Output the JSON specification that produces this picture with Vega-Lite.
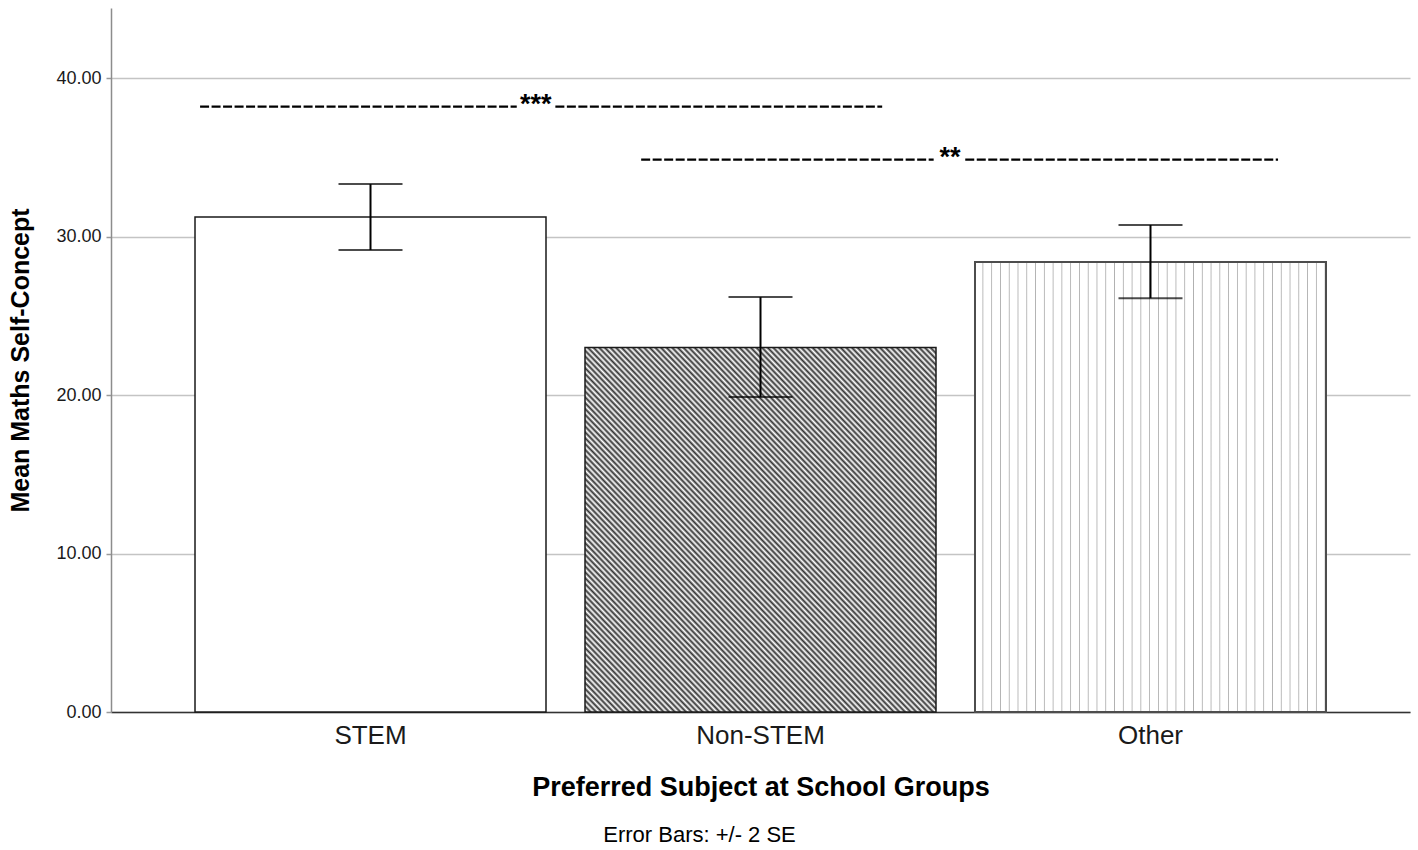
{
  "$schema": "https://vega.github.io/schema/vega-lite/v6.json",
  "width": 1299,
  "height": 704,
  "autosize": {"type": "none"},
  "padding": {"left": 111, "top": 8, "right": 8, "bottom": 138},
  "background": "white",
  "config": {
    "view": {"stroke": null},
    "font": "Liberation Sans",
    "axisY": {"domainColor": "#8c8c8c", "domainWidth": 1.5, "tickColor": "#9a9a9a", "tickSize": 5, "tickWidth": 1.5, "grid": true, "gridColor": "#c4c4c4", "gridWidth": 1.5, "labelFont": "Liberation Sans", "labelFontSize": 18, "labelColor": "#1a1a1a", "labelPadding": 5, "titleFont": "Liberation Sans", "titleFontSize": 25, "titleFontWeight": "bold", "titleColor": "#000", "titleX": -91, "titleY": 352, "titleAngle": -90, "titleAlign": "center", "titleBaseline": "middle"},
    "axisX": {"domainColor": "#333", "domainWidth": 1.5, "ticks": false, "grid": false, "labelFont": "Liberation Sans", "labelFontSize": 26, "labelColor": "#1a1a1a", "labelPadding": 10, "labelAngle": 0, "titleFont": "Liberation Sans", "titleFontSize": 27, "titleFontWeight": "bold", "titleColor": "#000", "titleY": 83, "titleBaseline": "alphabetic"}
  },
  "title": {"text": "Error Bars: +/- 2 SE", "orient": "bottom", "anchor": "middle", "dx": -61, "offset": 25, "fontSize": 22, "fontWeight": "normal", "font": "Liberation Sans", "color": "#000"},
  "datasets": {
    "groups": [
      {"group": "STEM", "mean": 31.23, "lo": 29.15, "hi": 33.31},
      {"group": "Non-STEM", "mean": 23.0, "lo": 19.88, "hi": 26.18},
      {"group": "Other", "mean": 28.4, "lo": 26.11, "hi": 30.73}
    ],
    "sigLines": [
      {"x": -0.437, "x2": 0.375, "y": 38.2},
      {"x": 0.474, "x2": 1.312, "y": 38.2},
      {"x": 0.694, "x2": 1.444, "y": 34.85},
      {"x": 1.525, "x2": 2.327, "y": 34.85}
    ],
    "sigLabels": [
      {"x": 0.424, "y": 38.2, "label": "***"},
      {"x": 1.486, "y": 34.85, "label": "**"}
    ]
  },
  "layer": [
    {
      "data": {"name": "groups"},
      "encoding": {
        "x": {"field": "group", "type": "nominal", "sort": ["STEM", "Non-STEM", "Other"], "scale": {"domain": ["STEM", "Non-STEM", "Other"], "paddingInner": 0.1, "paddingOuter": 0.2154}, "title": "Preferred Subject at School Groups"},
        "y": {"field": "mean", "type": "quantitative", "scale": {"domain": [0, 44.42], "nice": false, "zero": true}, "axis": {"values": [0, 10, 20, 30, 40], "format": ".2f"}, "title": "Mean Maths Self-Concept"}
      },
      "layer": [
        {"transform": [{"filter": "datum.group === 'STEM'"}], "mark": {"type": "bar", "fill": "#ffffff", "stroke": "#1a1a1a", "strokeWidth": 1.5}},
        {"transform": [{"filter": "datum.group === 'Non-STEM'"}], "mark": {"type": "bar", "stroke": "#1a1a1a", "strokeWidth": 1.5, "fill": {"gradient": "linear", "x1": 0, "y1": 1, "x2": 1, "y2": 0, "stops": [
          {"offset": 0, "color": "#333"}, {"offset": 0.004, "color": "#fff"}, {"offset": 0.008, "color": "#333"}, {"offset": 0.012, "color": "#fff"}, {"offset": 0.016, "color": "#333"}, {"offset": 0.02, "color": "#fff"}, {"offset": 0.024, "color": "#333"}, {"offset": 0.028, "color": "#fff"}, {"offset": 0.032, "color": "#333"}, {"offset": 0.036, "color": "#fff"},
          {"offset": 0.04, "color": "#333"}, {"offset": 0.044, "color": "#fff"}, {"offset": 0.048, "color": "#333"}, {"offset": 0.052, "color": "#fff"}, {"offset": 0.056, "color": "#333"}, {"offset": 0.06, "color": "#fff"}, {"offset": 0.064, "color": "#333"}, {"offset": 0.068, "color": "#fff"}, {"offset": 0.072, "color": "#333"}, {"offset": 0.076, "color": "#fff"},
          {"offset": 0.08, "color": "#333"}, {"offset": 0.084, "color": "#fff"}, {"offset": 0.088, "color": "#333"}, {"offset": 0.092, "color": "#fff"}, {"offset": 0.096, "color": "#333"}, {"offset": 0.1, "color": "#fff"}, {"offset": 0.104, "color": "#333"}, {"offset": 0.108, "color": "#fff"}, {"offset": 0.112, "color": "#333"}, {"offset": 0.116, "color": "#fff"},
          {"offset": 0.12, "color": "#333"}, {"offset": 0.124, "color": "#fff"}, {"offset": 0.128, "color": "#333"}, {"offset": 0.132, "color": "#fff"}, {"offset": 0.136, "color": "#333"}, {"offset": 0.14, "color": "#fff"}, {"offset": 0.144, "color": "#333"}, {"offset": 0.148, "color": "#fff"}, {"offset": 0.152, "color": "#333"}, {"offset": 0.156, "color": "#fff"},
          {"offset": 0.16, "color": "#333"}, {"offset": 0.164, "color": "#fff"}, {"offset": 0.168, "color": "#333"}, {"offset": 0.172, "color": "#fff"}, {"offset": 0.176, "color": "#333"}, {"offset": 0.18, "color": "#fff"}, {"offset": 0.184, "color": "#333"}, {"offset": 0.188, "color": "#fff"}, {"offset": 0.192, "color": "#333"}, {"offset": 0.196, "color": "#fff"},
          {"offset": 0.2, "color": "#333"}, {"offset": 0.204, "color": "#fff"}, {"offset": 0.208, "color": "#333"}, {"offset": 0.212, "color": "#fff"}, {"offset": 0.216, "color": "#333"}, {"offset": 0.22, "color": "#fff"}, {"offset": 0.224, "color": "#333"}, {"offset": 0.228, "color": "#fff"}, {"offset": 0.232, "color": "#333"}, {"offset": 0.236, "color": "#fff"},
          {"offset": 0.24, "color": "#333"}, {"offset": 0.244, "color": "#fff"}, {"offset": 0.248, "color": "#333"}, {"offset": 0.252, "color": "#fff"}, {"offset": 0.256, "color": "#333"}, {"offset": 0.26, "color": "#fff"}, {"offset": 0.264, "color": "#333"}, {"offset": 0.268, "color": "#fff"}, {"offset": 0.272, "color": "#333"}, {"offset": 0.276, "color": "#fff"},
          {"offset": 0.28, "color": "#333"}, {"offset": 0.284, "color": "#fff"}, {"offset": 0.288, "color": "#333"}, {"offset": 0.292, "color": "#fff"}, {"offset": 0.296, "color": "#333"}, {"offset": 0.3, "color": "#fff"}, {"offset": 0.304, "color": "#333"}, {"offset": 0.308, "color": "#fff"}, {"offset": 0.312, "color": "#333"}, {"offset": 0.316, "color": "#fff"},
          {"offset": 0.32, "color": "#333"}, {"offset": 0.324, "color": "#fff"}, {"offset": 0.328, "color": "#333"}, {"offset": 0.332, "color": "#fff"}, {"offset": 0.336, "color": "#333"}, {"offset": 0.34, "color": "#fff"}, {"offset": 0.344, "color": "#333"}, {"offset": 0.348, "color": "#fff"}, {"offset": 0.352, "color": "#333"}, {"offset": 0.356, "color": "#fff"},
          {"offset": 0.36, "color": "#333"}, {"offset": 0.364, "color": "#fff"}, {"offset": 0.368, "color": "#333"}, {"offset": 0.372, "color": "#fff"}, {"offset": 0.376, "color": "#333"}, {"offset": 0.38, "color": "#fff"}, {"offset": 0.384, "color": "#333"}, {"offset": 0.388, "color": "#fff"}, {"offset": 0.392, "color": "#333"}, {"offset": 0.396, "color": "#fff"},
          {"offset": 0.4, "color": "#333"}, {"offset": 0.404, "color": "#fff"}, {"offset": 0.408, "color": "#333"}, {"offset": 0.412, "color": "#fff"}, {"offset": 0.416, "color": "#333"}, {"offset": 0.42, "color": "#fff"}, {"offset": 0.424, "color": "#333"}, {"offset": 0.428, "color": "#fff"}, {"offset": 0.432, "color": "#333"}, {"offset": 0.436, "color": "#fff"},
          {"offset": 0.44, "color": "#333"}, {"offset": 0.444, "color": "#fff"}, {"offset": 0.448, "color": "#333"}, {"offset": 0.452, "color": "#fff"}, {"offset": 0.456, "color": "#333"}, {"offset": 0.46, "color": "#fff"}, {"offset": 0.464, "color": "#333"}, {"offset": 0.468, "color": "#fff"}, {"offset": 0.472, "color": "#333"}, {"offset": 0.476, "color": "#fff"},
          {"offset": 0.48, "color": "#333"}, {"offset": 0.484, "color": "#fff"}, {"offset": 0.488, "color": "#333"}, {"offset": 0.492, "color": "#fff"}, {"offset": 0.496, "color": "#333"}, {"offset": 0.5, "color": "#fff"}, {"offset": 0.504, "color": "#333"}, {"offset": 0.508, "color": "#fff"}, {"offset": 0.512, "color": "#333"}, {"offset": 0.516, "color": "#fff"},
          {"offset": 0.52, "color": "#333"}, {"offset": 0.524, "color": "#fff"}, {"offset": 0.528, "color": "#333"}, {"offset": 0.532, "color": "#fff"}, {"offset": 0.536, "color": "#333"}, {"offset": 0.54, "color": "#fff"}, {"offset": 0.544, "color": "#333"}, {"offset": 0.548, "color": "#fff"}, {"offset": 0.552, "color": "#333"}, {"offset": 0.556, "color": "#fff"},
          {"offset": 0.56, "color": "#333"}, {"offset": 0.564, "color": "#fff"}, {"offset": 0.568, "color": "#333"}, {"offset": 0.572, "color": "#fff"}, {"offset": 0.576, "color": "#333"}, {"offset": 0.58, "color": "#fff"}, {"offset": 0.584, "color": "#333"}, {"offset": 0.588, "color": "#fff"}, {"offset": 0.592, "color": "#333"}, {"offset": 0.596, "color": "#fff"},
          {"offset": 0.6, "color": "#333"}, {"offset": 0.604, "color": "#fff"}, {"offset": 0.608, "color": "#333"}, {"offset": 0.612, "color": "#fff"}, {"offset": 0.616, "color": "#333"}, {"offset": 0.62, "color": "#fff"}, {"offset": 0.624, "color": "#333"}, {"offset": 0.628, "color": "#fff"}, {"offset": 0.632, "color": "#333"}, {"offset": 0.636, "color": "#fff"},
          {"offset": 0.64, "color": "#333"}, {"offset": 0.644, "color": "#fff"}, {"offset": 0.648, "color": "#333"}, {"offset": 0.652, "color": "#fff"}, {"offset": 0.656, "color": "#333"}, {"offset": 0.66, "color": "#fff"}, {"offset": 0.664, "color": "#333"}, {"offset": 0.668, "color": "#fff"}, {"offset": 0.672, "color": "#333"}, {"offset": 0.676, "color": "#fff"},
          {"offset": 0.68, "color": "#333"}, {"offset": 0.684, "color": "#fff"}, {"offset": 0.688, "color": "#333"}, {"offset": 0.692, "color": "#fff"}, {"offset": 0.696, "color": "#333"}, {"offset": 0.7, "color": "#fff"}, {"offset": 0.704, "color": "#333"}, {"offset": 0.708, "color": "#fff"}, {"offset": 0.712, "color": "#333"}, {"offset": 0.716, "color": "#fff"},
          {"offset": 0.72, "color": "#333"}, {"offset": 0.724, "color": "#fff"}, {"offset": 0.728, "color": "#333"}, {"offset": 0.732, "color": "#fff"}, {"offset": 0.736, "color": "#333"}, {"offset": 0.74, "color": "#fff"}, {"offset": 0.744, "color": "#333"}, {"offset": 0.748, "color": "#fff"}, {"offset": 0.752, "color": "#333"}, {"offset": 0.756, "color": "#fff"},
          {"offset": 0.76, "color": "#333"}, {"offset": 0.764, "color": "#fff"}, {"offset": 0.768, "color": "#333"}, {"offset": 0.772, "color": "#fff"}, {"offset": 0.776, "color": "#333"}, {"offset": 0.78, "color": "#fff"}, {"offset": 0.784, "color": "#333"}, {"offset": 0.788, "color": "#fff"}, {"offset": 0.792, "color": "#333"}, {"offset": 0.796, "color": "#fff"},
          {"offset": 0.8, "color": "#333"}, {"offset": 0.804, "color": "#fff"}, {"offset": 0.808, "color": "#333"}, {"offset": 0.812, "color": "#fff"}, {"offset": 0.816, "color": "#333"}, {"offset": 0.82, "color": "#fff"}, {"offset": 0.824, "color": "#333"}, {"offset": 0.828, "color": "#fff"}, {"offset": 0.832, "color": "#333"}, {"offset": 0.836, "color": "#fff"},
          {"offset": 0.84, "color": "#333"}, {"offset": 0.844, "color": "#fff"}, {"offset": 0.848, "color": "#333"}, {"offset": 0.852, "color": "#fff"}, {"offset": 0.856, "color": "#333"}, {"offset": 0.86, "color": "#fff"}, {"offset": 0.864, "color": "#333"}, {"offset": 0.868, "color": "#fff"}, {"offset": 0.872, "color": "#333"}, {"offset": 0.876, "color": "#fff"},
          {"offset": 0.88, "color": "#333"}, {"offset": 0.884, "color": "#fff"}, {"offset": 0.888, "color": "#333"}, {"offset": 0.892, "color": "#fff"}, {"offset": 0.896, "color": "#333"}, {"offset": 0.9, "color": "#fff"}, {"offset": 0.904, "color": "#333"}, {"offset": 0.908, "color": "#fff"}, {"offset": 0.912, "color": "#333"}, {"offset": 0.916, "color": "#fff"},
          {"offset": 0.92, "color": "#333"}, {"offset": 0.924, "color": "#fff"}, {"offset": 0.928, "color": "#333"}, {"offset": 0.932, "color": "#fff"}, {"offset": 0.936, "color": "#333"}, {"offset": 0.94, "color": "#fff"}, {"offset": 0.944, "color": "#333"}, {"offset": 0.948, "color": "#fff"}, {"offset": 0.952, "color": "#333"}, {"offset": 0.956, "color": "#fff"},
          {"offset": 0.96, "color": "#333"}, {"offset": 0.964, "color": "#fff"}, {"offset": 0.968, "color": "#333"}, {"offset": 0.972, "color": "#fff"}, {"offset": 0.976, "color": "#333"}, {"offset": 0.98, "color": "#fff"}, {"offset": 0.984, "color": "#333"}, {"offset": 0.988, "color": "#fff"}, {"offset": 0.992, "color": "#333"}, {"offset": 0.996, "color": "#fff"},
          {"offset": 1, "color": "#333"}
        ]}}},
        {"transform": [{"filter": "datum.group === 'Other'"}], "mark": {"type": "bar", "stroke": "#4d4d4d", "strokeWidth": 2, "fill": {"gradient": "linear", "x1": 0, "y1": 0, "x2": 1, "y2": 0, "stops": [
          {"offset": 0, "color": "#fff"},
          {"offset": 0.02, "color": "#fff"}, {"offset": 0.0225, "color": "#b0b0b0"}, {"offset": 0.025, "color": "#fff"},
          {"offset": 0.045, "color": "#fff"}, {"offset": 0.0475, "color": "#b0b0b0"}, {"offset": 0.05, "color": "#fff"},
          {"offset": 0.07, "color": "#fff"}, {"offset": 0.0725, "color": "#b0b0b0"}, {"offset": 0.075, "color": "#fff"},
          {"offset": 0.095, "color": "#fff"}, {"offset": 0.0975, "color": "#b0b0b0"}, {"offset": 0.1, "color": "#fff"},
          {"offset": 0.12, "color": "#fff"}, {"offset": 0.1225, "color": "#b0b0b0"}, {"offset": 0.125, "color": "#fff"},
          {"offset": 0.145, "color": "#fff"}, {"offset": 0.1475, "color": "#b0b0b0"}, {"offset": 0.15, "color": "#fff"},
          {"offset": 0.17, "color": "#fff"}, {"offset": 0.1725, "color": "#b0b0b0"}, {"offset": 0.175, "color": "#fff"},
          {"offset": 0.195, "color": "#fff"}, {"offset": 0.1975, "color": "#b0b0b0"}, {"offset": 0.2, "color": "#fff"},
          {"offset": 0.22, "color": "#fff"}, {"offset": 0.2225, "color": "#b0b0b0"}, {"offset": 0.225, "color": "#fff"},
          {"offset": 0.245, "color": "#fff"}, {"offset": 0.2475, "color": "#b0b0b0"}, {"offset": 0.25, "color": "#fff"},
          {"offset": 0.27, "color": "#fff"}, {"offset": 0.2725, "color": "#b0b0b0"}, {"offset": 0.275, "color": "#fff"},
          {"offset": 0.295, "color": "#fff"}, {"offset": 0.2975, "color": "#b0b0b0"}, {"offset": 0.3, "color": "#fff"},
          {"offset": 0.32, "color": "#fff"}, {"offset": 0.3225, "color": "#b0b0b0"}, {"offset": 0.325, "color": "#fff"},
          {"offset": 0.345, "color": "#fff"}, {"offset": 0.3475, "color": "#b0b0b0"}, {"offset": 0.35, "color": "#fff"},
          {"offset": 0.37, "color": "#fff"}, {"offset": 0.3725, "color": "#b0b0b0"}, {"offset": 0.375, "color": "#fff"},
          {"offset": 0.395, "color": "#fff"}, {"offset": 0.3975, "color": "#b0b0b0"}, {"offset": 0.4, "color": "#fff"},
          {"offset": 0.42, "color": "#fff"}, {"offset": 0.4225, "color": "#b0b0b0"}, {"offset": 0.425, "color": "#fff"},
          {"offset": 0.445, "color": "#fff"}, {"offset": 0.4475, "color": "#b0b0b0"}, {"offset": 0.45, "color": "#fff"},
          {"offset": 0.47, "color": "#fff"}, {"offset": 0.4725, "color": "#b0b0b0"}, {"offset": 0.475, "color": "#fff"},
          {"offset": 0.495, "color": "#fff"}, {"offset": 0.4975, "color": "#b0b0b0"}, {"offset": 0.5, "color": "#fff"},
          {"offset": 0.52, "color": "#fff"}, {"offset": 0.5225, "color": "#b0b0b0"}, {"offset": 0.525, "color": "#fff"},
          {"offset": 0.545, "color": "#fff"}, {"offset": 0.5475, "color": "#b0b0b0"}, {"offset": 0.55, "color": "#fff"},
          {"offset": 0.57, "color": "#fff"}, {"offset": 0.5725, "color": "#b0b0b0"}, {"offset": 0.575, "color": "#fff"},
          {"offset": 0.595, "color": "#fff"}, {"offset": 0.5975, "color": "#b0b0b0"}, {"offset": 0.6, "color": "#fff"},
          {"offset": 0.62, "color": "#fff"}, {"offset": 0.6225, "color": "#b0b0b0"}, {"offset": 0.625, "color": "#fff"},
          {"offset": 0.645, "color": "#fff"}, {"offset": 0.6475, "color": "#b0b0b0"}, {"offset": 0.65, "color": "#fff"},
          {"offset": 0.67, "color": "#fff"}, {"offset": 0.6725, "color": "#b0b0b0"}, {"offset": 0.675, "color": "#fff"},
          {"offset": 0.695, "color": "#fff"}, {"offset": 0.6975, "color": "#b0b0b0"}, {"offset": 0.7, "color": "#fff"},
          {"offset": 0.72, "color": "#fff"}, {"offset": 0.7225, "color": "#b0b0b0"}, {"offset": 0.725, "color": "#fff"},
          {"offset": 0.745, "color": "#fff"}, {"offset": 0.7475, "color": "#b0b0b0"}, {"offset": 0.75, "color": "#fff"},
          {"offset": 0.77, "color": "#fff"}, {"offset": 0.7725, "color": "#b0b0b0"}, {"offset": 0.775, "color": "#fff"},
          {"offset": 0.795, "color": "#fff"}, {"offset": 0.7975, "color": "#b0b0b0"}, {"offset": 0.8, "color": "#fff"},
          {"offset": 0.82, "color": "#fff"}, {"offset": 0.8225, "color": "#b0b0b0"}, {"offset": 0.825, "color": "#fff"},
          {"offset": 0.845, "color": "#fff"}, {"offset": 0.8475, "color": "#b0b0b0"}, {"offset": 0.85, "color": "#fff"},
          {"offset": 0.87, "color": "#fff"}, {"offset": 0.8725, "color": "#b0b0b0"}, {"offset": 0.875, "color": "#fff"},
          {"offset": 0.895, "color": "#fff"}, {"offset": 0.8975, "color": "#b0b0b0"}, {"offset": 0.9, "color": "#fff"},
          {"offset": 0.92, "color": "#fff"}, {"offset": 0.9225, "color": "#b0b0b0"}, {"offset": 0.925, "color": "#fff"},
          {"offset": 0.945, "color": "#fff"}, {"offset": 0.9475, "color": "#b0b0b0"}, {"offset": 0.95, "color": "#fff"},
          {"offset": 0.97, "color": "#fff"}, {"offset": 0.9725, "color": "#b0b0b0"}, {"offset": 0.975, "color": "#fff"},
          {"offset": 0.995, "color": "#fff"}, {"offset": 0.9975, "color": "#b0b0b0"}, {"offset": 1, "color": "#fff"}
        ]}}},
        {"mark": {"type": "rule", "color": "#000", "strokeWidth": 2}, "encoding": {"y": {"field": "lo", "type": "quantitative", "title": "Mean Maths Self-Concept"}, "y2": {"field": "hi"}}},
        {"mark": {"type": "tick", "color": "#000", "size": 64, "thickness": 2}, "encoding": {"y": {"field": "lo", "type": "quantitative", "title": "Mean Maths Self-Concept"}}},
        {"mark": {"type": "tick", "color": "#000", "size": 64, "thickness": 2}, "encoding": {"y": {"field": "hi", "type": "quantitative", "title": "Mean Maths Self-Concept"}}}
      ]
    },
    {
      "layer": [
        {
          "data": {"name": "sigLines"},
          "mark": {"type": "rule", "color": "#000", "strokeWidth": 2.4, "strokeDash": [9, 2.5]},
          "encoding": {
            "x": {"field": "x", "type": "quantitative", "scale": {"domain": [-0.6654, 2.6654], "nice": false, "zero": false}, "axis": null},
            "x2": {"field": "x2"},
            "y": {"field": "y", "type": "quantitative", "title": "Mean Maths Self-Concept"}
          }
        },
        {
          "data": {"name": "sigLabels"},
          "mark": {"type": "text", "font": "Liberation Sans", "fontSize": 27, "fontWeight": "bold", "baseline": "alphabetic", "dy": 6, "color": "#000"},
          "encoding": {
            "x": {"field": "x", "type": "quantitative", "scale": {"domain": [-0.6654, 2.6654], "nice": false, "zero": false}, "axis": null},
            "y": {"field": "y", "type": "quantitative", "title": "Mean Maths Self-Concept"},
            "text": {"field": "label"}
          }
        }
      ]
    }
  ],
  "resolve": {"scale": {"x": "independent"}}
}
